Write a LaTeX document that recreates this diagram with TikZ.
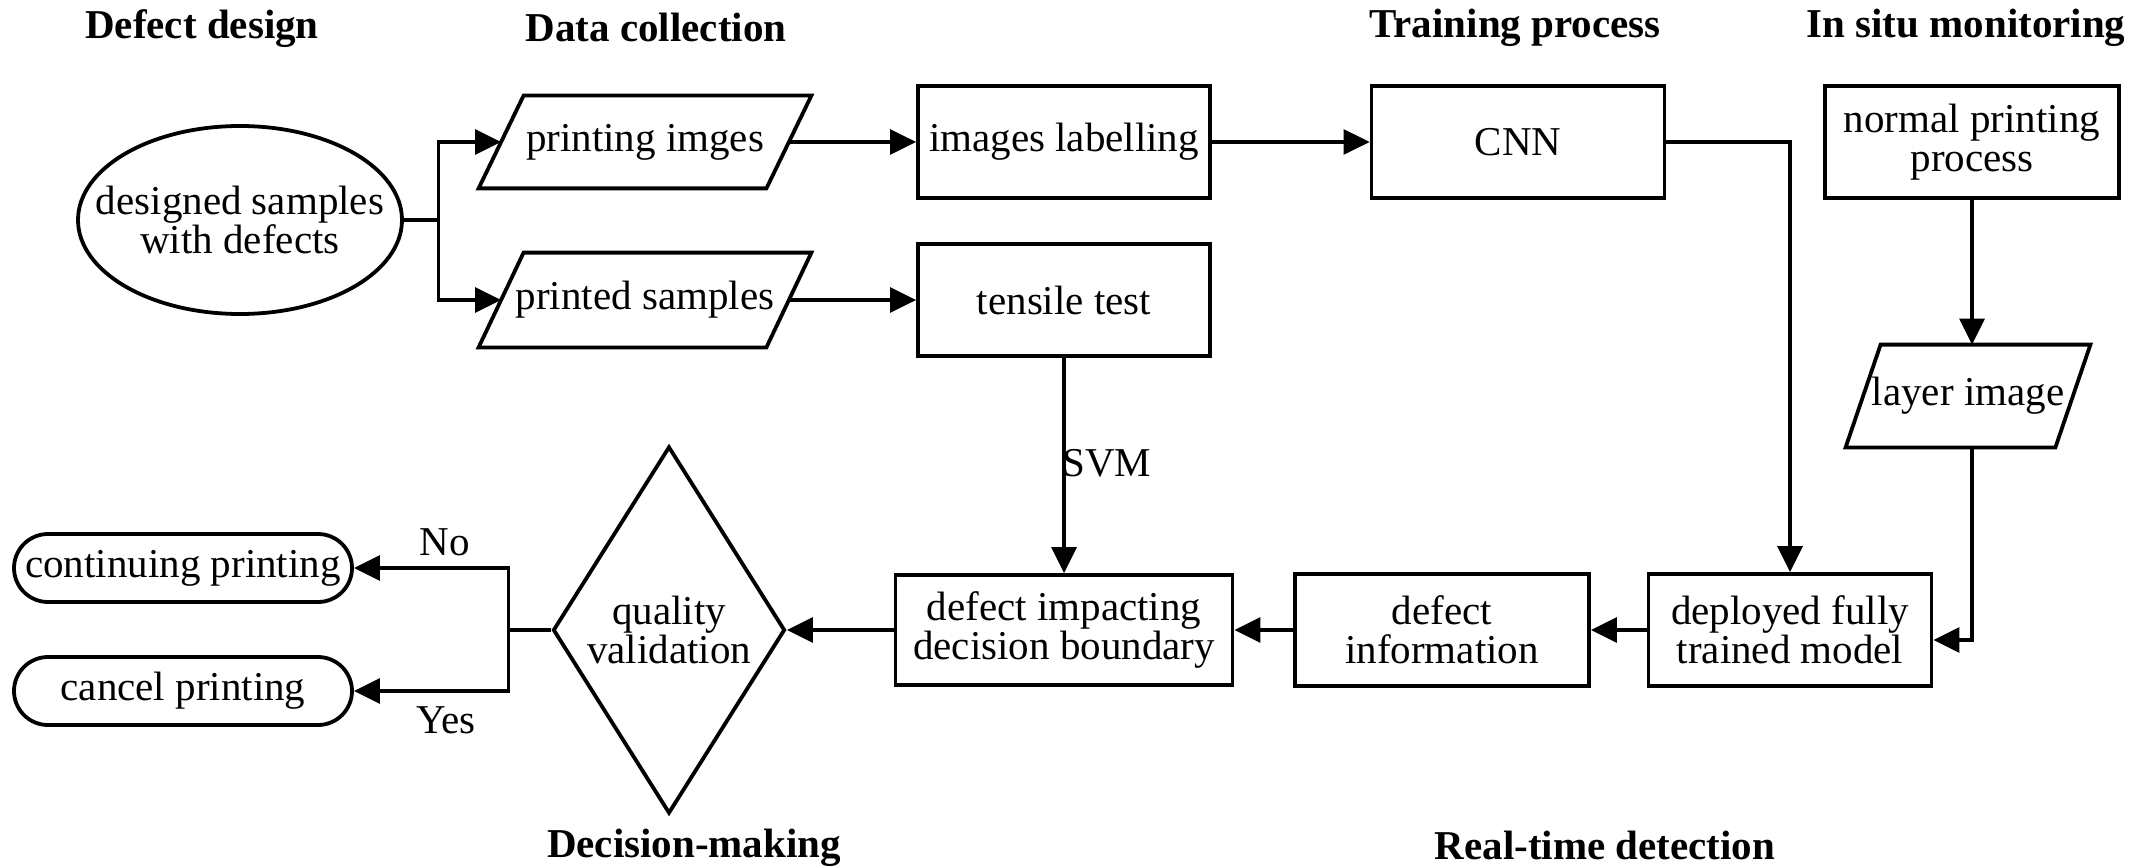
\documentclass[tikz,border=0pt]{standalone}
\usepackage{fontspec}
\setmainfont{Liberation Serif}
\usetikzlibrary{shapes.geometric,arrows.meta,calc}

\begin{document}
\begin{tikzpicture}[x=0.5pt,y=-0.5pt,
  txt/.style={font=\fontsize{20.5pt}{19.5pt}\selectfont, align=center, inner sep=0pt},
  ttl/.style={font=\fontsize{20.5pt}{24pt}\selectfont\bfseries, inner sep=0pt, anchor=base},
  shp/.style={line width=1.9pt},
  box/.style={txt, draw, shp, rectangle, minimum width=#1, minimum height=56pt},
  paranode/.style={txt, rectangle, minimum width=#1, minimum height=46pt},
  term/.style={txt, draw, shp, rectangle, rounded corners=17pt, minimum width=169pt, minimum height=34pt},
  conn/.style={line width=1.6pt},
  arr/.style={conn, -{Triangle[length=13pt,width=12.5pt]}},
  lbl/.style={txt, anchor=base}
]

\fill[white] (0,0) rectangle (2150,866);
\useasboundingbox (0,0) rectangle (2150,866);

% titles
\node[ttl] (t1) at (202,39) {Defect design};
\node[ttl] (t2) at (656,42) {Data collection};
\node[ttl] (t3) at (1515,38) {Training process};
\node[ttl] (t4) at (1966,38) {In situ monitoring};
\node[ttl] (t5) at (694,857) {Decision-making};
\node[ttl] (t6) at (1605,859) {Real-time detection};

% nodes
\node[txt, rectangle, minimum width=162pt, minimum height=94pt] (ell) at (240,220) {designed samples\\with defects};
\node[paranode=143.5pt] (pimg) at (645,142) {printing imges};
\node[paranode=143.5pt, minimum height=47pt] (psam) at (645,300) {printed samples};
\node[box=146pt] (lab) at (1064,142) {images labelling};
\node[box=146pt] (ten) at (1064,300) {tensile test};
\node[box=146.5pt] (cnn) at (1518,142) {CNN};
\node[box=147pt] (norm) at (1972,142) {normal printing\\process};
\node[paranode=104.5pt, minimum height=51pt] (layer) at (1968,396) {layer image};
\node[box=141.5pt] (model) at (1790,630) {deployed fully\\trained model};
\node[box=147pt] (info) at (1442,630) {defect\\information};
\node[box=168.5pt, minimum height=55pt] (imp) at (1064,630) {defect impacting\\decision boundary};
\node[txt, draw, shp, diamond, minimum width=116pt, minimum height=183.5pt] (qv) at (669,630) {quality\\validation};
\node[term] (cont) at (183,568) {continuing printing};
\node[term] (canc) at (183,691) {cancel printing};

% ellipse and parallelogram outlines
\draw[shp] (ell.center) ellipse [x radius=81pt, y radius=47pt];
\draw[shp] ([xshift=-11.25pt]pimg.south west) -- ([xshift=11.25pt]pimg.north west) -- ([xshift=11.25pt]pimg.north east) -- ([xshift=-11.25pt]pimg.south east) -- cycle;
\draw[shp] ([xshift=-11.25pt]psam.south west) -- ([xshift=11.25pt]psam.north west) -- ([xshift=11.25pt]psam.north east) -- ([xshift=-11.25pt]psam.south east) -- cycle;
\draw[shp] ([xshift=-8.75pt]layer.south west) -- ([xshift=8.75pt]layer.north west) -- ([xshift=8.75pt]layer.north east) -- ([xshift=-8.75pt]layer.south east) -- cycle;

% connectors
\draw[conn] (ell.east) -- ++(36,0) coordinate (j1);
\draw[arr] (j1) |- (pimg.west);
\draw[arr] (j1) |- (psam.west);
\draw[arr] (pimg.east) -- (lab.west);
\draw[arr] (psam.east) -- (ten.west);
\draw[arr] (lab.east) -- (cnn.west);
\draw[arr] (cnn.east) -| (model.north);
\draw[arr] (norm.south) -- (norm.south |- layer.north);
\draw[arr] (layer.south -| norm.south) |- ([yshift=-5pt]model.east);
\draw[arr] (ten.south) -- (imp.north);
\draw[arr] (model.west) -- (info.east);
\draw[arr] (info.west) -- (imp.east);
\draw[arr] (imp.west) -- (qv.east);
\draw[conn] (qv.west) -- ++(-43,0) coordinate (j2);
\draw[arr] (j2) |- (cont.east);
\draw[arr] (j2) |- (canc.east);

% labels
\node[lbl] (svm) at (1107,476) {SVM};
\node[lbl] (no) at (445,555) {No};
\node[lbl] (yes) at (446,733) {Yes};

\end{tikzpicture}
\end{document}
